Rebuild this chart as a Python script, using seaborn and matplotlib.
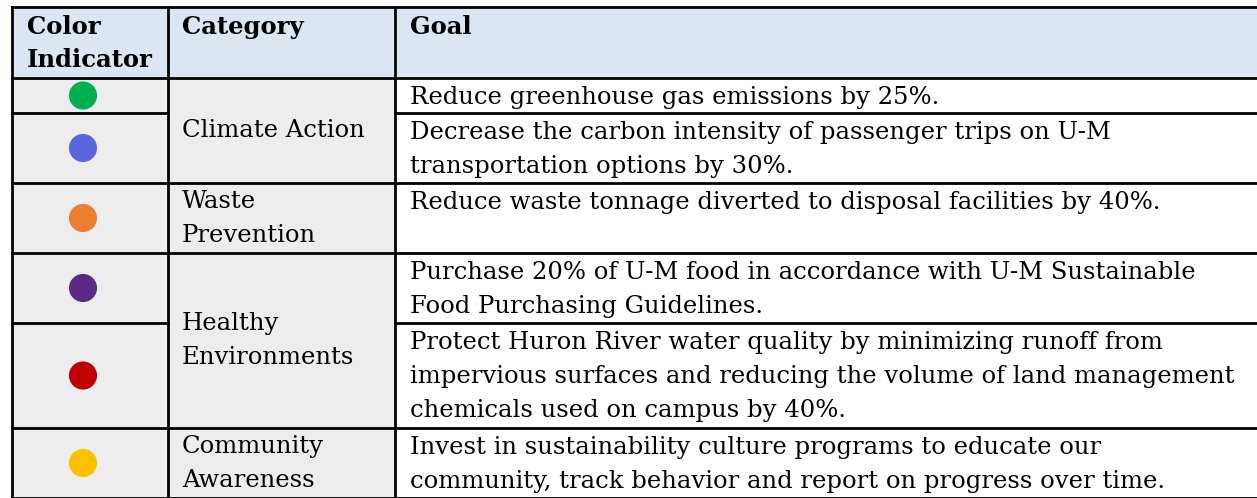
import matplotlib
matplotlib.use("Agg")
import matplotlib.pyplot as plt
import matplotlib.patches as patches
import numpy as np
import pandas as pd
import seaborn as sns

# table contents
header = ["Color\nIndicator", "Category", "Goal"]
categories = ["Climate Action", "Waste\nPrevention", "Healthy\nEnvironments", "Community\nAwareness"]
category_rows = [2, 1, 2, 1]  # how many goal rows each category spans
goals = [
    "Reduce greenhouse gas emissions by 25%.",
    "Decrease the carbon intensity of passenger trips on U-M\ntransportation options by 30%.",
    "Reduce waste tonnage diverted to disposal facilities by 40%.",
    "Purchase 20% of U-M food in accordance with U-M Sustainable\nFood Purchasing Guidelines.",
    "Protect Huron River water quality by minimizing runoff from\nimpervious surfaces and reducing the volume of land management\nchemicals used on campus by 40%.",
    "Invest in sustainability culture programs to educate our\ncommunity, track behavior and report on progress over time.",
]
indicator_colors = ["#00B050", "#5B67DE", "#ED7D31", "#5B2A86", "#C00000", "#FFC000"]

# layout in pixels
W, H = 1257, 498
col_x = [12, 168, 395, W + 10]
top, head_bot = 7, 78
line_h = 35
FS = 17.5
font = "DejaVu Serif"

# row heights follow the number of text lines in each row
row_lines = [g.count("\n") + 1 for g in goals]
r = 0
for cat, span in zip(categories, category_rows):
    if span == 1:
        row_lines[r] = max(row_lines[r], cat.count("\n") + 1)
    r += span
row_edges = np.concatenate([[head_bot], head_bot + np.cumsum([35 + line_h * (n - 1) for n in row_lines])])
row_mid = (row_edges[:-1] + row_edges[1:]) / 2

fig = plt.figure(figsize=(12.57, 4.98), dpi=100)
ax = fig.add_axes([0, 0, 1, 1])

# cell fills
ax.add_patch(patches.Rectangle((col_x[0], top), col_x[3] - col_x[0], head_bot - top, color="#DCE6F2", lw=0))
ax.add_patch(patches.Rectangle((col_x[0], head_bot), col_x[2] - col_x[0], H + 10 - head_bot, color="#EDEDED", lw=0))

# indicator dots
dots = pd.DataFrame({"x": [83] * len(goals), "y": row_mid, "goal": goals})
sns.scatterplot(data=dots, x="x", y="y", hue="goal", palette=indicator_colors,
                s=410, linewidth=0, legend=False, ax=ax, zorder=3)

# borders
lk = dict(color="black", lw=2, solid_capstyle="projecting", zorder=4)
ax.plot([col_x[0], col_x[3]], [top, top], **lk)
ax.plot([col_x[0], col_x[3]], [head_bot, head_bot], **lk)
for y in row_edges[1:]:
    ax.plot([col_x[0], col_x[1]], [y, y], **lk)
    ax.plot([col_x[2], col_x[3]], [y, y], **lk)
cat_edges = row_edges[np.cumsum(category_rows)]
for y in cat_edges:
    ax.plot([col_x[1], col_x[2]], [y, y], **lk)
for x in col_x[:3]:
    ax.plot([x, x], [top, H + 10], **lk)

# header text
for x, txt in zip([27, 182, 410], header):
    for i, ln in enumerate(txt.split("\n")):
        ax.text(x, top + 20 + i * 33, ln, fontsize=FS, fontweight="bold", family=font,
                va="center", ha="left", color="black")

# goal text
for k, g in enumerate(goals):
    for i, ln in enumerate(g.split("\n")):
        ax.text(410, row_edges[k] + 19 + i * 34, ln, fontsize=FS, family=font,
                va="center", ha="left", color="black")

# category text, centred on the rows it spans
r = 0
for cat, span in zip(categories, category_rows):
    mid = (row_edges[r] + row_edges[r + span]) / 2
    parts = cat.split("\n")
    for i, ln in enumerate(parts):
        ax.text(182, mid + (i - (len(parts) - 1) / 2) * 34, ln, fontsize=FS, family=font,
                va="center", ha="left", color="black")
    r += span

ax.set_xlim(0, W)
ax.set_ylim(H, 0)
ax.axis("off")
fig.savefig("out.png", dpi=100)
